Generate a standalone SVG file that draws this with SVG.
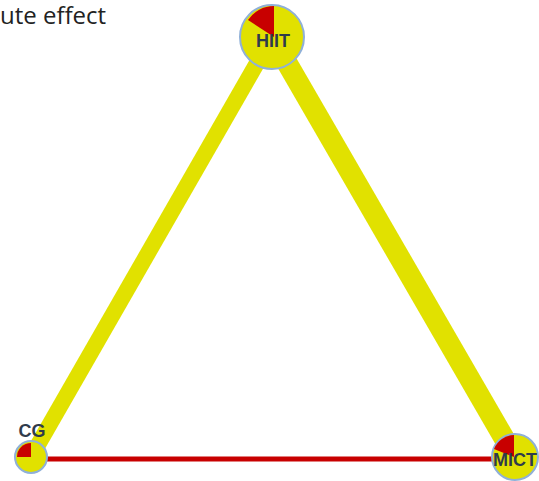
<svg xmlns="http://www.w3.org/2000/svg" width="539" height="481" viewBox="0 0 539 481">
<style>
.ttl{font-family:"Open Sans","Noto Sans",sans-serif;font-size:24px;fill:#222}
.lbl{font-family:"Liberation Sans",Arial,sans-serif;font-weight:bold;font-size:18px;fill:#2f3b4c;text-anchor:middle}
.ring{fill:#e1e100;stroke:#8fb0d8;stroke-width:2}
.pie{fill:#c80000}
.y{stroke:#e1e100;fill:none}
</style>
<rect width="539" height="481" fill="#fff"/>
<text class="ttl" x="0" y="24">ute effect</text>
<g id="connectors">
<line class="y" x1="272" y1="37" x2="31" y2="457" stroke-width="16"/>
<line class="y" x1="272" y1="37" x2="515" y2="457" stroke-width="21"/>
<line x1="31" y1="459" x2="515" y2="459" stroke="#c80000" stroke-width="5"/>
</g>
<g id="node-HIIT">
<circle class="ring" cx="272" cy="37" r="32"/>
<path class="pie" d="M274,37 L274,6 A31,31 0 0 0 248,20 Z"/>
<text class="lbl" x="273" y="47">HIIT</text>
</g>
<g id="node-CG">
<circle class="ring" cx="31" cy="457" r="16"/>
<path class="pie" d="M31,457 L31,443 A14,14 0 0 0 17,457 Z"/>
<text class="lbl" x="32" y="437">CG</text>
</g>
<g id="node-MICT">
<circle class="ring" cx="515" cy="457" r="23"/>
<path class="pie" d="M514,457 L514,435 A22,22 0 0 0 494,449 Z"/>
<text class="lbl" x="515" y="466">MICT</text>
</g>
</svg>
